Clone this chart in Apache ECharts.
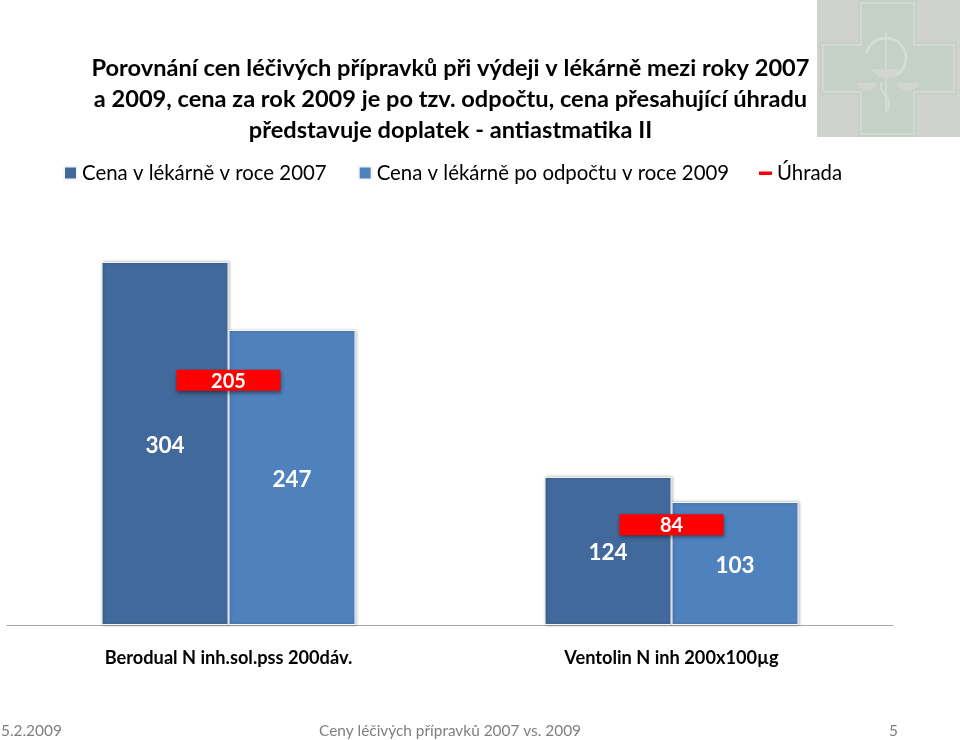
<!DOCTYPE html>
<html><head><meta charset="utf-8">
<style>html,body{margin:0;padding:0;background:#fff}#c{width:960px;height:740px}</style>
<script src="https://cdn.jsdelivr.net/npm/echarts@6/dist/echarts.min.js"></script>
</head><body><div id="c"></div>
<script>
const categories = ['Berodual N inh.sol.pss 200dáv.', 'Ventolin N inh 200x100µg'];
const price2007 = [304, 124];
const price2009 = [247, 103];
const reimbursement = [205, 84];
const titleLines = 'Porovnání cen léčivých přípravků při výdeji v lékárně mezi roky 2007\na 2009, cena za rok 2009 je po tzv. odpočtu, cena přesahující úhradu\npředstavuje doplatek - antiastmatika II';
const FONT = 'Lato';
const chart = echarts.init(document.getElementById('c'), null, {renderer:'canvas'});
const LIGHT = '#d6dcd6';
const BOWL = '#d2d5d2';
const footer = (text, left, top) => ({text, left, top, textStyle:{fontFamily:FONT,fontSize:15.4,fontWeight:'normal',color:'#7f7f7f'}});
const legendText = {fontFamily:FONT,fontSize:20.4,color:'#000',padding:[0,0,0,0]};
const bowl = (x1,x2,y,d) => ({type:'bezierCurve',shape:{x1,y1:y,cpx1:x1+(x2-x1)*0.2,cpy1:y+d*1.3,cpx2:x1+(x2-x1)*0.8,cpy2:y+d*1.3,x2,y2:y},style:{fill:BOWL,stroke:BOWL,lineWidth:1}});
chart.setOption({
  animation:false,
  backgroundColor:'#fff',
  title:[
    {text:titleLines,left:445.5,top:47.5,textAlign:'center',textStyle:{fontFamily:FONT,fontSize:23.6,fontWeight:'bold',color:'#000',lineHeight:31}},
    footer('5.2.2009',-4,719),
    footer('Ceny léčivých přípravků 2007 vs. 2009',314,719),
    footer('5',884,719)
  ],
  graphic:[{type:'group',silent:true,z:-1,children:[
    {type:'rect',shape:{x:817,y:0,width:143,height:137},style:{fill:'#cfd2cf'}},
    {type:'polygon',shape:{points:[[858,0],[917,0],[917,42],[957,42],[957,95],[917,95],[917,137],[858,137],[858,95],[820,95],[820,42],[858,42]]},style:{fill:'#c5d1c6'}},
    {type:'polygon',shape:{points:[[861,3],[914,3],[914,45],[954,45],[954,92],[914,92],[914,134],[861,134],[861,92],[823,92],[823,45],[861,45]]},style:{fill:'none',stroke:LIGHT,lineWidth:1.5}},
    {type:'line',shape:{x1:886,y1:33,x2:886,y2:112},style:{stroke:LIGHT,lineWidth:1.5}},
    {type:'arc',shape:{cx:886,cy:58,r:20,startAngle:-2.9,endAngle:1.2,clockwise:true},style:{fill:'none',stroke:LIGHT,lineWidth:2.5}},
    bowl(872,900,69,9), bowl(856,877,83,8), bowl(897,919,83,8),
    {type:'bezierCurve',shape:{x1:882,y1:82,cpx1:876,cpy1:94,cpx2:896,cpy2:96,x2:886,y2:112},style:{fill:'none',stroke:LIGHT,lineWidth:2}}
  ]}],
  legend:[{
    left:58,top:158,itemGap:31,itemWidth:13,itemHeight:13,textStyle:legendText,
    data:[
      {name:'Cena v lékárně v roce 2007',icon:'rect'},
      {name:'Cena v lékárně po odpočtu v roce 2009',icon:'rect'}
    ]
  },{
    left:754,top:158,itemWidth:13,itemHeight:13,textStyle:legendText,
    data:[{name:'Úhrada',icon:'path://M0 0L0 0M0 5H13V8.5H0ZM13 13L13 13'}]
  }],
  grid:{left:7,right:67,top:207,bottom:115},
  xAxis:{type:'category',data:categories,
    axisTick:{show:false},
    axisLine:{lineStyle:{color:'#a6a6a6',width:1}},
    axisLabel:{interval:0,margin:24,fontFamily:FONT,fontSize:18.2,fontWeight:'bold',color:'#000'}},
  yAxis:{type:'value',min:0,max:350,show:false},
  series:[
    {name:'Cena v lékárně v roce 2007',type:'bar',data:price2007,barWidth:127,barGap:'0%',
      itemStyle:{color:'#41699b',borderColor:'#f4f6f9',borderWidth:1,shadowColor:'rgba(0,0,0,0.25)',shadowBlur:3,shadowOffsetX:1,shadowOffsetY:0},
      label:{show:true,position:'inside',offset:[0,2],fontFamily:FONT,fontSize:22.5,fontWeight:'bold',color:'#fff'}},
    {name:'Cena v lékárně po odpočtu v roce 2009',type:'bar',data:price2009,barWidth:127,
      itemStyle:{color:'#4f81bd',borderColor:'#f4f6f9',borderWidth:1,shadowColor:'rgba(0,0,0,0.25)',shadowBlur:3,shadowOffsetX:1,shadowOffsetY:0},
      label:{show:true,position:'inside',offset:[0,2],fontFamily:FONT,fontSize:22.5,fontWeight:'bold',color:'#fff'}},
    {name:'Úhrada',type:'line',data:reimbursement,z:5,symbol:'rect',symbolSize:[104,21],
      lineStyle:{opacity:0},
      itemStyle:{color:'#ff0000',shadowColor:'rgba(0,0,0,0.45)',shadowBlur:4,shadowOffsetY:2},
      label:{show:true,position:'inside',offset:[0,1],fontFamily:FONT,fontSize:20,fontWeight:'bold',color:'#fff'}}
  ]
});
</script></body></html>
